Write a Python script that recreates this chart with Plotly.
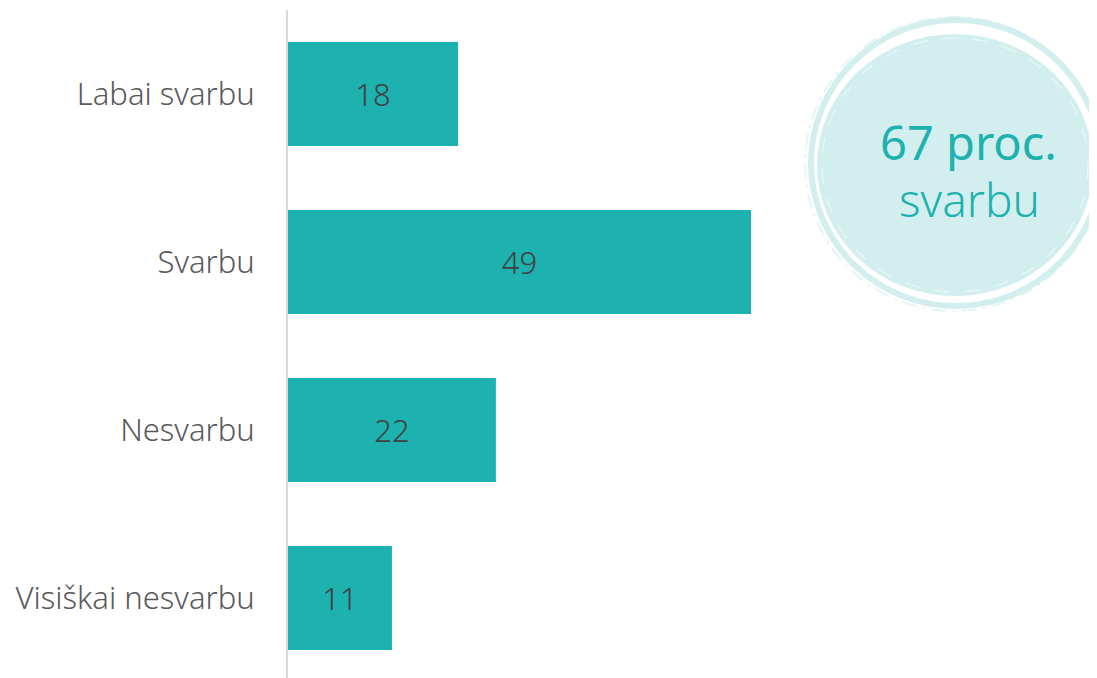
import plotly.graph_objects as go

categories = ["Labai svarbu", "Svarbu", "Nesvarbu", "Visiškai nesvarbu"]
values = [18, 49, 22, 11]
badge_line1 = "67 proc."
badge_line2 = "svarbu"

BAR = "#1DB1AF"
CIRCLE = "#D2EEEE"
FONT = "Noto Sans"

# the page body has an 8px margin; figure pixel coords = page coords - 8
OFF = 8
W, H = 1097 - OFF, 678 - OFF
L, R, T, B = 288 - OFF, 6, 10 - OFF, 0
pw, ph = W - L - R, H - T - B
px_per_unit = 9.45
cat_px = 168.0

fig = go.Figure()
fig.add_trace(go.Bar(
    y=categories, x=values, orientation="h",
    marker=dict(color=BAR, line=dict(width=0)),
    width=0.62,
    text=[str(v) for v in values],
    textposition="inside", insidetextanchor="middle",
    textfont=dict(family=FONT, size=31, color="#404040", weight=300),
    hoverinfo="skip",
))

def px_to_paper(xp, yp):
    # xp, yp in page pixels
    return (xp - OFF - L) / pw, 1 - (yp - OFF - T) / ph

shapes = []
def ell(cxp, cyp, rx, ry, **kw):
    ax, ay = px_to_paper(cxp, cyp)
    d = dict(type="circle", xref="paper", yref="paper", xsizemode="pixel", ysizemode="pixel",
             xanchor=ax, yanchor=ay, x0=-rx, x1=rx, y0=-ry, y1=ry, layer="below")
    d.update(kw)
    shapes.append(d)

none = "rgba(0,0,0,0)"
ell(956, 163, 145, 143, fillcolor=none, line=dict(color=CIRCLE, width=6))
ell(954, 164, 149, 147, fillcolor=none, line=dict(color="rgba(210,238,238,0.6)", width=2, dash="longdashdot"))
ell(955, 165, 138, 131, fillcolor=CIRCLE, line=dict(width=0))
ell(955, 165, 133, 127, fillcolor=none, line=dict(color="rgba(255,255,255,0.55)", width=1.2, dash="longdash"))

fig.update_layout(
    width=W, height=H,
    margin=dict(l=L, r=R, t=T, b=B, autoexpand=False),
    paper_bgcolor="white", plot_bgcolor="white",
    showlegend=False,
    shapes=shapes,
    xaxis=dict(range=[0, pw / px_per_unit], visible=False, fixedrange=True),
    yaxis=dict(
        range=[-0.5 + ph / cat_px, -0.5], type="category",
        showgrid=False, zeroline=False,
        showline=True, linecolor="#D9D9D9", linewidth=2,
        ticks="", ticklabelstandoff=25,
        tickfont=dict(family=FONT, size=31, color="#595959", weight=300),
        fixedrange=True,
    ),
    annotations=[
        dict(x=px_to_paper(968, 0)[0], y=px_to_paper(0, 142)[1], xref="paper", yref="paper",
             text=badge_line1, showarrow=False, xanchor="center", yanchor="middle",
             font=dict(family=FONT, size=47, color=BAR, weight=400)),
        dict(x=px_to_paper(969, 0)[0], y=px_to_paper(0, 199)[1], xref="paper", yref="paper",
             text=badge_line2, showarrow=False, xanchor="center", yanchor="middle",
             font=dict(family=FONT, size=46, color=BAR, weight=300)),
    ],
)

fig.write_html("out.html")
